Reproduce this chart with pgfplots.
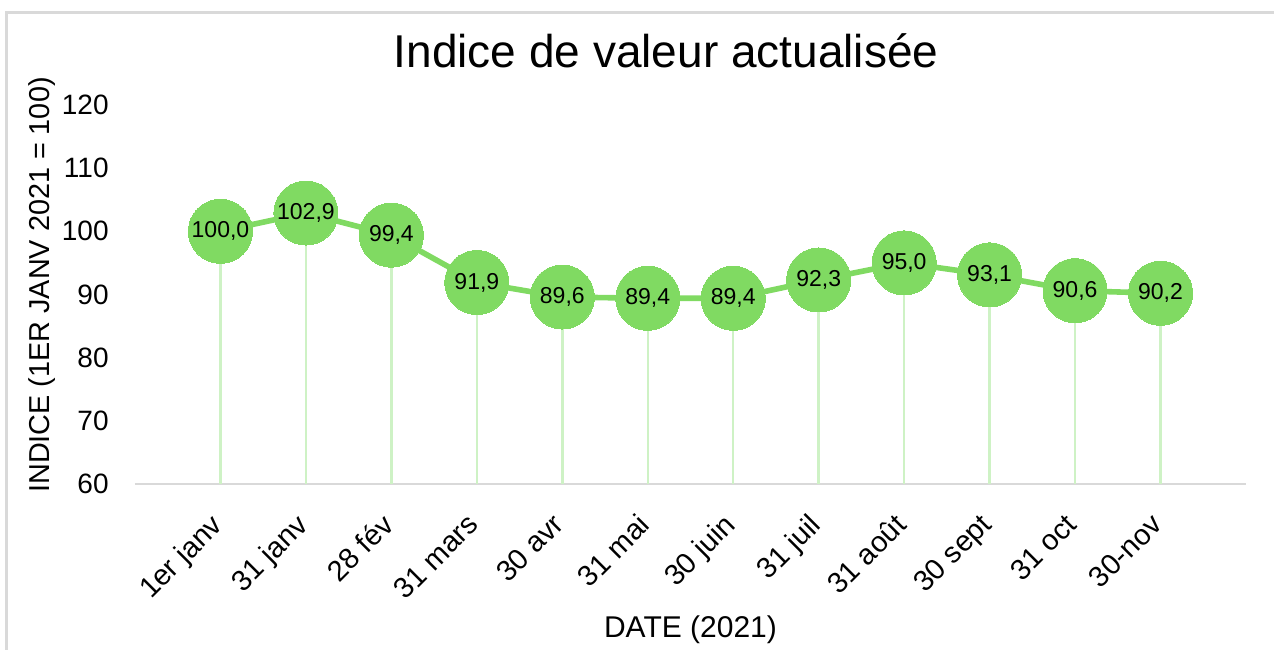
\documentclass[border=0pt]{standalone}
\usepackage{pgfplots}
\pgfplotsset{compat=1.18}
\usepackage{fontspec}
\setmainfont{Liberation Sans}
\definecolor{mygreen}{RGB}{128,218,98}
\definecolor{droplight}{RGB}{206,242,197}
\definecolor{axgray}{RGB}{217,217,217}
\begin{document}
\begin{tikzpicture}
\useasboundingbox (-67.5bp,-83bp) rectangle (569.5bp,242bp);
\draw[axgray, line width=1.5bp] (-64.25bp,-100bp) -- (-64.25bp,235.75bp) -- (700bp,235.75bp);
\begin{axis}[
  at={(0,0)}, anchor=south west,
  scale only axis,
  width=555.5bp, height=189.5bp,
  xmin=-1, xmax=12,
  ymin=60, ymax=120,
  axis lines=left,
  axis line style={-},
  y axis line style={draw=none},
  x axis line style={draw=axgray, line width=1bp},
  major tick length=0pt,
  xtick={0,...,11},
  xticklabels={1er janv,31 janv,28 fév,31 mars,30 avr,31 mai,30 juin,31 juil,31 août,30 sept,31 oct,30-nov},
  ytick={60,70,...,120},
  /pgf/number format/assume math mode=true,
  tick label style={font=\fontsize{14bp}{16bp}\selectfont, text=black},
  xticklabel style={rotate=45, anchor=north east, inner sep=0pt, xshift=-13.7bp, yshift=-5.8bp, font=\fontsize{14.5bp}{16bp}\selectfont},
  yticklabel style={anchor=east, inner sep=0pt, xshift=-13bp},
  title={Indice de valeur actualisée},
  title style={at={(axis description cs:0.478,1)}, anchor=center, yshift=21bp, font=\fontsize{23bp}{26bp}\selectfont},
  xlabel={DATE (2021)},
  xlabel style={at={(axis description cs:0.5,0)}, anchor=center, yshift=-73bp, font=\fontsize{15bp}{17bp}\selectfont},
  ylabel={INDICE (1ER JANV 2021 = 100)},
  ylabel style={at={(axis description cs:-0.0837,0.525)}, anchor=center, font=\fontsize{14.4bp}{16bp}\selectfont},
  clip=true,
  clip marker paths=false,
]
\addplot[ycomb, draw=droplight, line width=1.2bp, mark=none] coordinates {
(0,100.0) (1,102.9) (2,99.4) (3,91.9) (4,89.6) (5,89.4) (6,89.4) (7,92.3) (8,95.0) (9,93.1) (10,90.6) (11,90.2)
};
\addplot[draw=mygreen, line width=2.8bp, mark=*, mark size=16bp,
  mark options={fill=mygreen, draw=mygreen, line width=0pt},
  nodes near coords={\pgfmathprintnumber[fixed,fixed zerofill,precision=1,use comma]{\pgfplotspointmeta}},
  every node near coord/.append style={anchor=center, font=\fontsize{11.5bp}{13bp}\selectfont, text=black, inner sep=0pt},
] coordinates {
(0,100.0) (1,102.9) (2,99.4) (3,91.9) (4,89.6) (5,89.4) (6,89.4) (7,92.3) (8,95.0) (9,93.1) (10,90.6) (11,90.2)
};
\end{axis}
\end{tikzpicture}
\end{document}
